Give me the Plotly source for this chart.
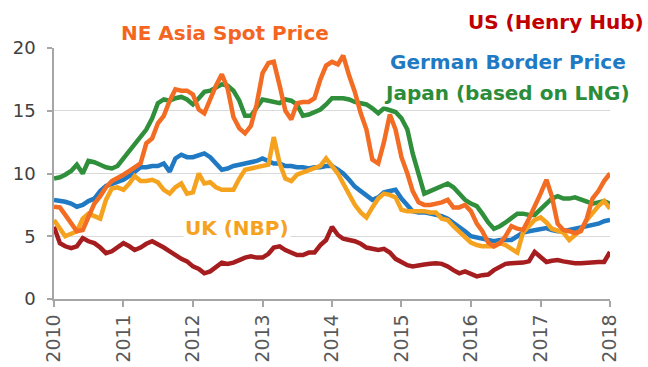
import pandas as pd
import plotly.graph_objects as go

# Monthly observations, Jan 2010 .. Jan 2018 (US$ per MBtu)
months = pd.date_range("2010-01-01", "2018-01-01", freq="MS")

japan = [9.6, 9.7, 9.9, 10.2, 10.7, 10.0, 11.0, 10.9, 10.7, 10.5, 10.4, 10.6,
         11.2, 11.8, 12.3, 12.8, 13.5, 14.4, 15.6, 15.9, 15.8, 16.0, 16.1, 15.9,
         15.5, 16.0, 16.5, 16.6, 16.8, 17.1, 17.0, 16.6, 15.8, 14.6, 14.6, 15.2,
         15.9, 15.8, 15.7, 15.6, 15.9, 15.8, 15.5, 14.6, 14.7, 14.9, 15.1, 15.5,
         16.0, 16.0, 16.0, 15.9, 15.7, 15.6, 15.5, 15.2, 14.8, 15.2, 15.0, 14.9,
         14.4, 13.5, 11.6, 9.8, 8.4, 8.6, 8.8, 9.0, 9.2, 8.9, 8.4, 7.9,
         7.6, 7.4, 6.8, 6.1, 5.6, 5.8, 6.1, 6.5, 6.8, 6.8, 6.7, 6.7,
         7.1, 7.6, 8.0, 8.2, 8.0, 8.0, 8.1, 7.9, 7.7, 7.6, 7.7, 7.8,
         7.6]

ne_asia = [7.35, 7.3, 6.7, 6.0, 5.4, 5.5, 6.6, 7.6, 8.2, 8.9, 9.4, 9.6,
           9.9, 10.2, 10.5, 10.8, 12.4, 12.8, 14.0, 14.6, 15.8, 16.7, 16.6, 16.6,
           16.3, 15.1, 14.8, 16.0, 17.0, 17.9, 16.8, 14.5, 13.6, 13.2, 13.8, 15.5,
           18.0, 18.8, 18.9, 17.0, 15.0, 14.3, 15.6, 15.7, 15.7, 16.0, 17.5, 18.6,
           18.9, 18.7, 19.4, 17.8, 16.5, 14.8, 13.5, 11.1, 10.8, 12.5, 14.7, 13.5,
           11.3, 10.0, 8.6, 7.7, 7.5, 7.5, 7.6, 7.7, 7.9, 7.3, 7.3, 7.5,
           7.0, 6.0, 5.4, 4.5, 4.2, 4.45, 5.0, 5.8, 5.6, 5.5, 6.4, 7.3,
           8.4, 9.5, 8.2, 6.0, 5.5, 5.4, 5.25, 5.4, 6.4, 8.0, 8.6, 9.4,
           10.0]

uk_nbp = [6.3, 5.6, 5.0, 5.2, 5.4, 6.4, 6.8, 6.6, 6.4, 7.9, 8.8, 8.9,
          8.7, 9.2, 9.8, 9.4, 9.4, 9.5, 9.3, 8.7, 8.4, 8.9, 9.2, 8.4,
          8.5, 10.0, 9.2, 9.3, 8.9, 8.7, 8.7, 8.7, 9.6, 10.3, 10.4, 10.5,
          10.6, 10.7, 12.9, 10.8, 9.6, 9.4, 9.9, 10.1, 10.3, 10.4, 10.6, 11.2,
          10.6, 10.0, 9.2, 8.3, 7.5, 6.9, 6.5, 7.3, 8.0, 8.4, 8.3, 8.1,
          7.1, 7.0, 7.0, 7.0, 7.0, 6.9, 6.9, 6.4, 6.3, 5.8, 5.4, 5.0,
          4.5, 4.3, 4.2, 4.2, 4.2, 4.45, 4.3, 4.0, 3.7, 5.3, 5.8, 6.3,
          6.5, 6.1, 5.6, 5.4, 5.3, 4.7, 5.1, 5.5, 6.3, 6.9, 7.4, 7.8,
          7.2]

german = [7.9, 7.85, 7.75, 7.6, 7.35, 7.5, 7.8, 8.0, 8.6, 9.0, 9.2, 9.3,
          9.5, 9.8, 10.1, 10.5, 10.5, 10.6, 10.6, 10.8, 10.15, 11.2, 11.5, 11.3,
          11.3, 11.5, 11.6, 11.3, 10.8, 10.3, 10.4, 10.6, 10.7, 10.8, 10.9, 11.0,
          11.2, 11.0, 10.8, 10.8, 10.6, 10.6, 10.5, 10.5, 10.4, 10.5, 10.5, 10.6,
          10.6, 10.3, 10.0, 9.5, 8.95, 8.6, 8.2, 7.9, 8.1, 8.5, 8.6, 8.7,
          8.0, 7.4, 7.0, 6.9, 6.9, 6.8, 6.7, 6.6, 6.4, 6.1, 5.8, 5.4,
          5.0, 4.9, 4.8, 4.7, 4.6, 4.7, 4.7, 4.7, 5.0, 5.3, 5.4, 5.5,
          5.6, 5.65, 5.5, 5.4, 5.4, 5.5, 5.65, 5.7, 5.8, 5.9, 6.0, 6.2,
          6.3]

us_henry_hub = [5.75, 4.45, 4.2, 4.05, 4.2, 4.85, 4.6, 4.45, 4.1, 3.65, 3.8, 4.1,
                4.45, 4.2, 3.9, 4.1, 4.4, 4.6, 4.4, 4.1, 3.8, 3.5, 3.2, 3.0,
                2.6, 2.4, 2.05, 2.2, 2.5, 2.9, 2.8, 2.9, 3.1, 3.3, 3.4, 3.3,
                3.3, 3.6, 4.1, 4.2, 3.9, 3.7, 3.5, 3.5, 3.7, 3.7, 4.3, 4.7,
                5.75, 5.1, 4.8, 4.7, 4.6, 4.4, 4.1, 4.0, 3.9, 4.0, 3.7, 3.2,
                2.9, 2.7, 2.6, 2.7, 2.75, 2.8, 2.85, 2.8, 2.6, 2.3, 2.05, 2.2,
                2.0, 1.8, 1.9, 1.95, 2.3, 2.6, 2.8, 2.85, 2.85, 2.9, 3.0, 3.75,
                3.35, 2.95, 3.05, 3.1, 3.0, 2.9, 2.85, 2.85, 2.9, 2.95, 2.95, 2.95,
                3.75]

year_ticks = [f"{y}-01-01" for y in range(2010, 2019)]
year_labels = [str(y) for y in range(2010, 2019)]

series = [
    ("US (Henry Hub)", us_henry_hub, "#a51d1f"),
    ("Japan (based on LNG)", japan, "#2f8f3b"),
    ("German Border Price", german, "#2079c3"),
    ("UK (NBP)", uk_nbp, "#f5a21e"),
    ("NE Asia Spot Price", ne_asia, "#f26c23"),
]

fig = go.Figure()
for name, vals, color in series:
    fig.add_trace(go.Scatter(
        x=months, y=vals, mode="lines", name=name,
        line=dict(color=color, width=4.5),
    ))

# Series labels placed next to their lines
label_font = "DejaVu Sans"
labels = [
    ("NE Asia Spot Price", "#f4661f", 0.3076, 1.06, "center"),
    ("US (Henry Hub)", "#c00000", 1.064, 1.104, "right"),
    ("German Border Price", "#1f7ac4", 0.601, 0.944, "left"),
    ("Japan (based on LNG)", "#2b8c3a", 0.590, 0.821, "left"),
    ("UK (NBP)", "#f5a21e", 0.232, 0.283, "left"),
]
for text, color, x, y, anchor in labels:
    fig.add_annotation(
        text=f"<b>{text}</b>", x=x, y=y, xref="paper", yref="paper",
        xanchor=anchor, yanchor="middle", showarrow=False,
        font=dict(family=label_font, size=20, color=color),
        bgcolor="white",
    )

# white panel behind the German label, hiding the top gridline there
fig.add_shape(type="rect", xref="paper", yref="paper",
              x0=0.568, x1=1.0, y0=0.985, y1=1.02,
              fillcolor="white", line=dict(width=0), layer="below")

fig.update_layout(
    width=648, height=367,
    margin=dict(l=54, r=38, t=48, b=68),
    paper_bgcolor="white", plot_bgcolor="white",
    showlegend=False,
    font=dict(family="DejaVu Sans", color="#404040"),
)
fig.update_xaxes(
    range=["2010-01-01", "2018-01-01"],
    tickvals=year_ticks, ticktext=year_labels,
    tickangle=-90, tickfont=dict(size=19, color="#595959"),
    showgrid=False, showline=True, linecolor="#a6a6a6", linewidth=1.5,
    ticks="outside", ticklen=6, tickcolor="#a6a6a6", tickwidth=1.5,
    automargin=False,
)
fig.update_yaxes(
    range=[0, 20], tickvals=[0, 5, 10, 15, 20],
    tickfont=dict(size=18, color="#404040"),
    showgrid=True, gridcolor="#d9d9d9", gridwidth=1.2,
    showline=True, linecolor="#a6a6a6", linewidth=1.5,
    ticks="outside", ticklen=5, tickcolor="#a6a6a6", tickwidth=1.5,
    ticklabelstandoff=8, zeroline=False, automargin=False,
)

fig.write_html("out.html")
